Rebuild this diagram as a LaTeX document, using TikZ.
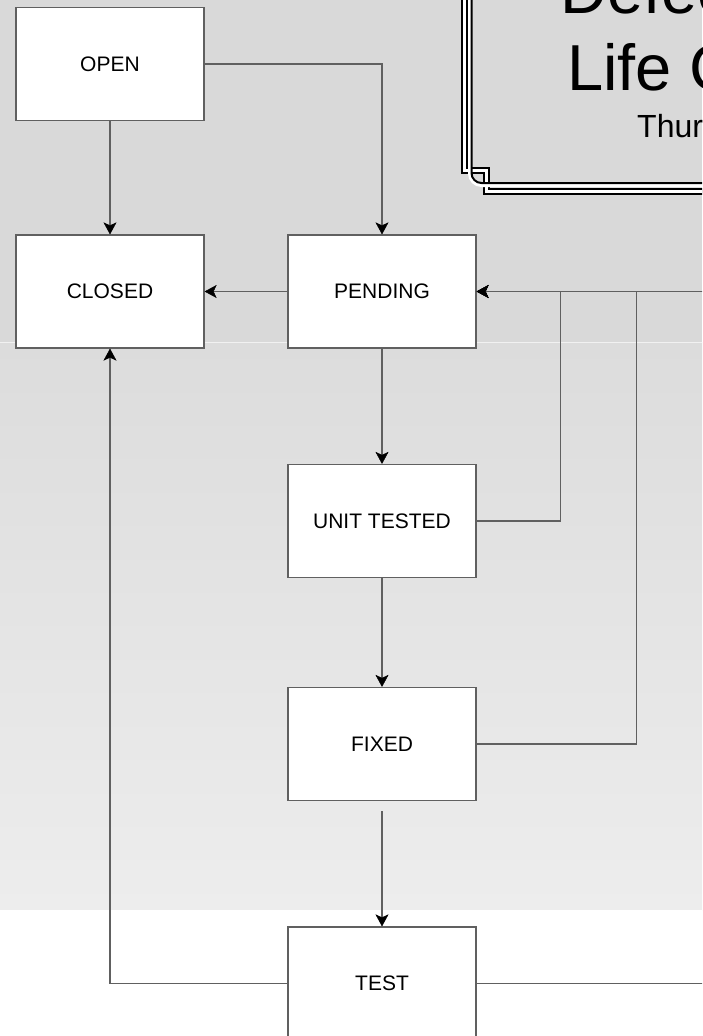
\documentclass[tikz,border=0pt]{standalone}
\usepackage{fontspec}
\setmainfont{Liberation Sans}
\usetikzlibrary{arrows.meta}
\definecolor{edgegray}{HTML}{606060}
\definecolor{bgtop}{HTML}{D9D9D9}
\definecolor{bgmid}{HTML}{DCDCDC}
\definecolor{bglow}{HTML}{EDEDED}
\tikzset{
  state/.style={draw=edgegray, line width=1.2pt, fill=white, minimum width=188pt,
    minimum height=113pt, inner sep=0pt, font=\fontsize{21}{24}\selectfont},
  conn/.style={draw=edgegray, line width=1.2pt,
    -{Stealth[length=12pt, width=13pt, inset=3pt, color=black, fill=black, line width=0.4pt]}}
}
\begin{document}
\begin{tikzpicture}[x=1pt, y=-1pt]
\useasboundingbox (0,0) rectangle (702,1036);
\clip (0,0) rectangle (702,1036);

% page background
\fill[bgtop] (0,0) rectangle (702,342);
\shade[top color=bgmid, bottom color=bglow] (0,342) rectangle (702,910);
\draw[white, opacity=0.6, line width=1pt] (0,342) -- (702,342);
\fill[white] (0,910) rectangle (702,1036);

% title frame: notched double border and rounded inner border
\draw[line width=2pt, double=white, double distance=3pt]
  (464.5,-20) -- (464.5,170) -- (486,170) -- (486,191.5) -- (740,191.5);
\draw[white, line width=3pt, rounded corners=12pt]
  (469.5,-20) -- (469.5,185.5) -- (740,185.5);
\draw[black, line width=2pt, rounded corners=10pt]
  (471.5,-20) -- (471.5,183) -- (740,183);

% title text
\node[anchor=base west, inner sep=0pt, font=\fontsize{65}{78}\selectfont] (t1) at (560,13) {Defect};
\node[anchor=base west, inner sep=0pt, font=\fontsize{65}{78}\selectfont] (t2) at (567,90) {Life Cycle};
\node[anchor=base west, inner sep=0pt, font=\fontsize{32}{38}\selectfont] (t3) at (637,137) {Thursday};

% states
\node[state] (open)    at (110,64)    {OPEN};
\node[state] (closed)  at (110,291.5) {CLOSED};
\node[state] (pending) at (382,291.5) {PENDING};
\node[state] (unit)    at (382,521)   {UNIT TESTED};
\node[state] (fixed)   at (382,744)   {FIXED};
\node[state] (test)    at (382,983.5) {TEST};

\coordinate (offr) at (740,291.5);

% transitions
\draw[conn] (open.south) -- (closed.north);
\draw[conn] (open.east) -| (pending.north);
\draw[conn] (pending.west) -- (closed.east);
\draw[conn] (pending.south) -- (unit.north);
\draw[conn] (unit.south) -- (fixed.north);
\draw[conn, shorten <=10pt] (fixed.south) -- (test.north);
\draw[conn] (unit.east) -- ++(84,0) |- (pending.east);
\draw[conn] (fixed.east) -- ++(160,0) |- (pending.east);
\draw[conn] (test.east) -| (offr) -- (pending.east);
\draw[conn] (test.west) -| (closed.south);
\end{tikzpicture}
\end{document}
